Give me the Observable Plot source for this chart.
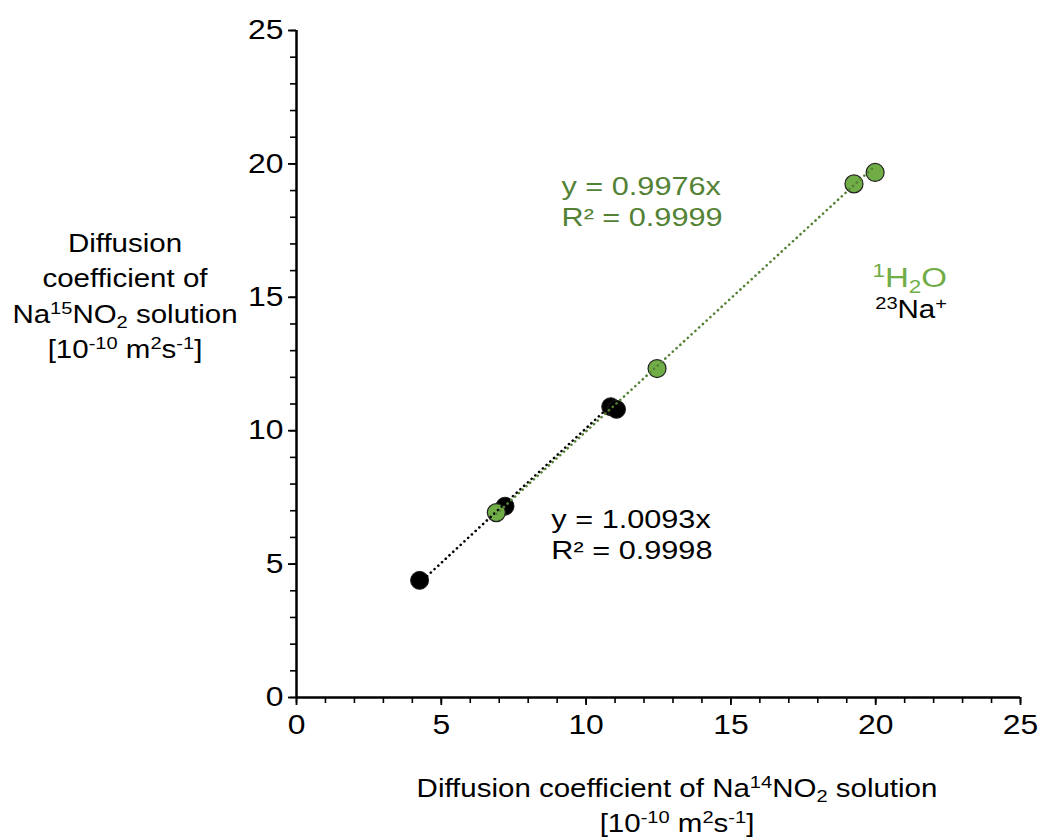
<!DOCTYPE html>
<html>
<head>
<meta charset="utf-8">
<script src="https://cdn.jsdelivr.net/npm/d3@7"></script>
<script src="https://cdn.jsdelivr.net/npm/@observablehq/plot@0.6"></script>
<style>
  html, body { margin: 0; padding: 0; background: #fff; }
  #chart { width: 1042px; height: 840px; }
</style>
</head>
<body>
<div id="chart"></div>
<script>
// Diffusion coefficients measured in Na14NO2 (x) vs Na15NO2 (y) solutions, 10^-10 m²/s
const naX  = [4.25, 7.20, 10.85, 11.05];   // 23Na+
const naY  = [4.39, 7.17, 10.90, 10.80];
const h2oX = [6.90, 12.45, 19.25, 19.98];  // 1H2O
const h2oY = [6.93, 12.33, 19.25, 19.68];

// Linear fits through the origin
const naSlope = 1.0093, naR2 = 0.9998;
const h2oSlope = 0.9976, h2oR2 = 0.9999;

const majorTicks = [0, 5, 10, 15, 20, 25];
const minorTicks = d3.range(0, 26);

const GREEN = "#70AD47";
const DARK_GREEN = "#548235";
const FONT = "'Liberation Sans', Arial, sans-serif";
const STRETCH = 1.18; // wide lettering

const naPts = naX.map((x, i) => ({x, y: naY[i]}));
const h2oPts = h2oX.map((x, i) => ({x, y: h2oY[i]}));
const fitLine = (xs, slope) => d3.extent(xs).map(x => ({x, y: slope * x}));

const eq = (slope, r2) => `y = ${slope.toFixed(4)}x\nR² = ${r2.toFixed(4)}`;

const plot = Plot.plot({
  width: 1042,
  height: 840,
  marginLeft: 296,
  marginRight: 22,
  marginTop: 30,
  marginBottom: 143,
  style: {fontFamily: FONT, fontSize: "26px", color: "black", background: "white", overflow: "visible"},
  x: {domain: [0, 25], label: null},
  y: {domain: [0, 25], label: null},
  marks: [
    // minor ticks
    Plot.axisX({ticks: minorTicks, tickSize: 6, text: null, strokeWidth: 1.6, label: null}),
    Plot.axisY({ticks: minorTicks, tickSize: 6, text: null, strokeWidth: 1.6, label: null}),
    // major ticks
    Plot.axisX({ticks: majorTicks, tickSize: 8, text: null, strokeWidth: 1.8, label: null}),
    Plot.axisY({ticks: majorTicks, tickSize: 8, text: null, strokeWidth: 1.8, label: null}),
    // tick labels
    Plot.text(majorTicks, {x: d => d, frameAnchor: "bottom", dy: 36, text: d => String(d), fontSize: 27, fill: "black"}),
    Plot.text(majorTicks, {y: d => d, frameAnchor: "left", dx: -13, textAnchor: "end", text: d => String(d), fontSize: 27, fill: "black"}),
    Plot.ruleX([0], {stroke: "black", strokeWidth: 2.5}),
    Plot.ruleY([0], {stroke: "black", strokeWidth: 2.5}),
    // data
    Plot.dot(naPts, {x: "x", y: "y", r: 9, fill: "black", stroke: "#222", strokeWidth: 1}),
    Plot.dot(h2oPts, {x: "x", y: "y", r: 9, fill: GREEN, stroke: "#222", strokeWidth: 1.2}),
    // dotted trendlines
    Plot.line(fitLine(naX, naSlope), {x: "x", y: "y", stroke: "black", strokeWidth: 2.6, strokeDasharray: "0.1 5", strokeLinecap: "round"}),
    Plot.line(fitLine(h2oX, h2oSlope), {x: "x", y: "y", stroke: DARK_GREEN, strokeWidth: 2.6, strokeDasharray: "0.1 5", strokeLinecap: "round"}),
    // fit equations
    Plot.text([eq(h2oSlope, h2oR2)], {x: 9.15, y: 18.63, text: d => d, textAnchor: "start", lineAnchor: "middle", lineHeight: 1.2, fill: DARK_GREEN, fontSize: 26}),
    Plot.text([eq(naSlope, naR2)], {x: 8.8, y: 6.15, text: d => d, textAnchor: "start", lineAnchor: "middle", lineHeight: 1.2, fill: "black", fontSize: 26})
  ]
});

document.getElementById("chart").appendChild(plot);

// Widen a text horizontally about its own anchor point (leaves its position untouched)
function stretchText(el) {
  const b = el.getBBox();
  if (!b.width) return;
  const anchor = getComputedStyle(el).textAnchor;
  const ax = anchor === "end" ? b.x + b.width : anchor === "middle" ? b.x + b.width / 2 : b.x;
  const t = el.getAttribute("transform") || "";
  el.setAttribute("transform", `${t} translate(${ax},0) scale(${STRETCH},1) translate(${-ax},0)`.trim());
}

// Text with superscripts / subscripts
function rich(g, x, y, parts, {size = 25, anchor = "middle", fill = "black"} = {}) {
  const t = g.append("text")
    .attr("x", x).attr("y", y)
    .attr("text-anchor", anchor)
    .attr("fill", fill)
    .attr("font-size", size)
    .attr("font-family", FONT);
  let shift = 0;
  for (const [s, kind] of parts) {
    const target = kind === "sup" ? -0.36 * size : kind === "sub" ? 0.22 * size : 0;
    t.append("tspan")
      .attr("dy", target - shift)
      .attr("font-size", kind ? size * 0.68 : size)
      .text(s);
    shift = target;
  }
  return t;
}

const svg = d3.select(plot);
const g = svg.append("g");

// y-axis title
const yTitle = [
  [["Diffusion"]],
  [["coefficient of"]],
  [["Na"], ["15", "sup"], ["NO"], ["2", "sub"], [" solution"]],
  [["[10"], ["-10", "sup"], [" m"], ["2", "sup"], ["s"], ["-1", "sup"], ["]"]]
];
yTitle.forEach((parts, i) => rich(g, 125, 252 + i * 35.5, parts, {size: 25}));

// x-axis title
rich(g, 677, 797, [["Diffusion coefficient of Na"], ["14", "sup"], ["NO"], ["2", "sub"], [" solution"]], {size: 25});
rich(g, 677, 832, [["[10"], ["-10", "sup"], [" m"], ["2", "sup"], ["s"], ["-1", "sup"], ["]"]], {size: 25});

// series labels
rich(g, 947, 287, [["1", "sup"], ["H"], ["2", "sub"], ["O"]], {size: 28, anchor: "end", fill: GREEN});
rich(g, 947, 318, [["23", "sup"], ["Na"], ["+", "sup"]], {size: 25, anchor: "end", fill: "black"});

svg.selectAll("text").each(function() { stretchText(this); });
</script>
</body>
</html>
